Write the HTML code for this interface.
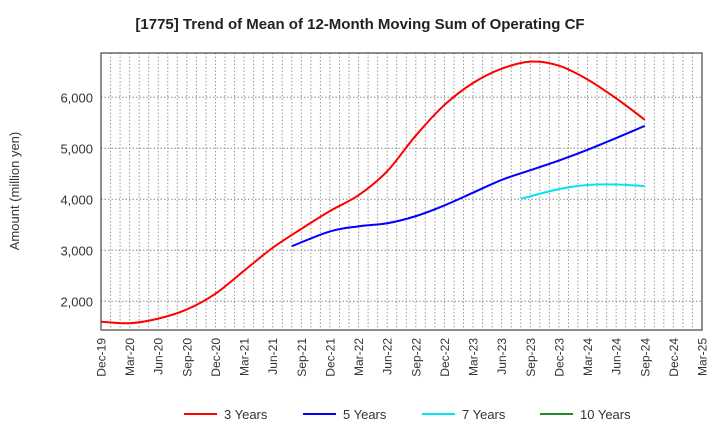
<!DOCTYPE html>
<html><head><meta charset="utf-8"><style>
body{margin:0;background:#fff;}
svg text{font-family:"Liberation Sans",sans-serif;}
</style></head><body>
<svg id="c" width="720" height="440" xmlns="http://www.w3.org/2000/svg">
<text x="360" y="29" text-anchor="middle" font-size="15" font-weight="bold" fill="#222">[1775]  Trend of Mean of 12-Month Moving Sum of Operating CF</text>
<text transform="translate(19,191) rotate(-90)" text-anchor="middle" font-size="13" fill="#333">Amount (million yen)</text>
<g id="grid"></g><g id="series"></g><g id="axes"></g><g id="legend"></g>
</svg>
<script>
const xLabels=["Dec-19","Mar-20","Jun-20","Sep-20","Dec-20","Mar-21","Jun-21","Sep-21","Dec-21","Mar-22","Jun-22","Sep-22","Dec-22","Mar-23","Jun-23","Sep-23","Dec-23","Mar-24","Jun-24","Sep-24","Dec-24","Mar-25"];
const yTicks=[2000,3000,4000,5000,6000];
const s3=[1600,1570,1660,1840,2150,2600,3050,3420,3770,4080,4550,5250,5850,6280,6560,6700,6620,6350,5980,5560];
const m3=[0,3,6,9,12,15,18,21,24,27,30,33,36,39,42,45,48,51,54,57];
const s5=[3080,3370,3470,3530,3670,3880,4130,4380,4570,4760,4970,5200,5440];
const m5=[20,24,27,30,33,36,39,42,45,48,51,54,57];
const s7=[4010,4200,4280,4290,4260];
const m7=[44,48,51,54,57];
const s10=[];
const m10=[];
const seriesNames=["3 Years","5 Years","7 Years","10 Years"];
const seriesColors=["#ff0000","#0000ff","#00e5ee","#228b22"];

const L=101,R=702,T=53,B=330,NS="http://www.w3.org/2000/svg";
const xm=m=>L+(R-L)*m/63;
const y=v=>97.3-(v-6000)*51/1000;
function mk(t,a,p){const e=document.createElementNS(NS,t);for(const k in a)e.setAttribute(k,a[k]);(p||document.getElementById('c')).appendChild(e);return e;}
const g=document.getElementById('grid'),ax=document.getElementById('axes'),sg=document.getElementById('series'),lg=document.getElementById('legend');
for(let m=1;m<63;m++){const l=mk('line',{x1:xm(m),x2:xm(m),y1:T,y2:B,stroke:'#999','stroke-dasharray':'1.5,2','stroke-width':1},g);

}
yTicks.forEach(v=>{const l=mk('line',{x1:L,x2:R,y1:y(v),y2:y(v),stroke:'#888','stroke-dasharray':'1.5,2','stroke-width':1},g);


const t=mk('text',{x:L-8,y:y(v)+5,'text-anchor':'end','font-size':13,fill:'#333'},ax);t.textContent=v.toLocaleString('en-US');

});
xLabels.forEach((s,i)=>{const x=xm(i*3);const t=mk('text',{transform:`translate(${x+4.5},${B+8}) rotate(-90)`,'text-anchor':'end','font-size':12,fill:'#333'},ax);t.textContent=s;

});
const fr=mk('rect',{x:L,y:T,width:R-L,height:B-T,fill:'none',stroke:'#444','stroke-width':1.2},ax);


function path(pts){if(pts.length<2)return '';let d=`M${pts[0][0]},${pts[0][1]}`;for(let i=0;i<pts.length-1;i++){const p0=pts[i-1]||pts[i],p1=pts[i],p2=pts[i+1],p3=pts[i+2]||p2;
d+=` C${p1[0]+(p2[0]-p0[0])/6},${p1[1]+(p2[1]-p0[1])/6} ${p2[0]-(p3[0]-p1[0])/6},${p2[1]-(p3[1]-p1[1])/6} ${p2[0]},${p2[1]}`;}return d;}
const months=[m3,m5,m7,m10];
[s3,s5,s7,s10].forEach((s,k)=>{const pts=s.map((v,i)=>[xm(months[k][i]),y(v)]);if(pts.length<2)return;
const p=mk('path',{d:path(pts),fill:'none',stroke:seriesColors[k],'stroke-width':2},sg);

});
const lx=[184,303,422,540];
seriesNames.forEach((n,k)=>{const l=mk('line',{x1:lx[k],x2:lx[k]+33,y1:414,y2:414,stroke:seriesColors[k],'stroke-width':2},lg);


const t=mk('text',{x:lx[k]+40,y:419,'font-size':13,fill:'#333'},lg);t.textContent=n;

});
</script>
</body></html>
